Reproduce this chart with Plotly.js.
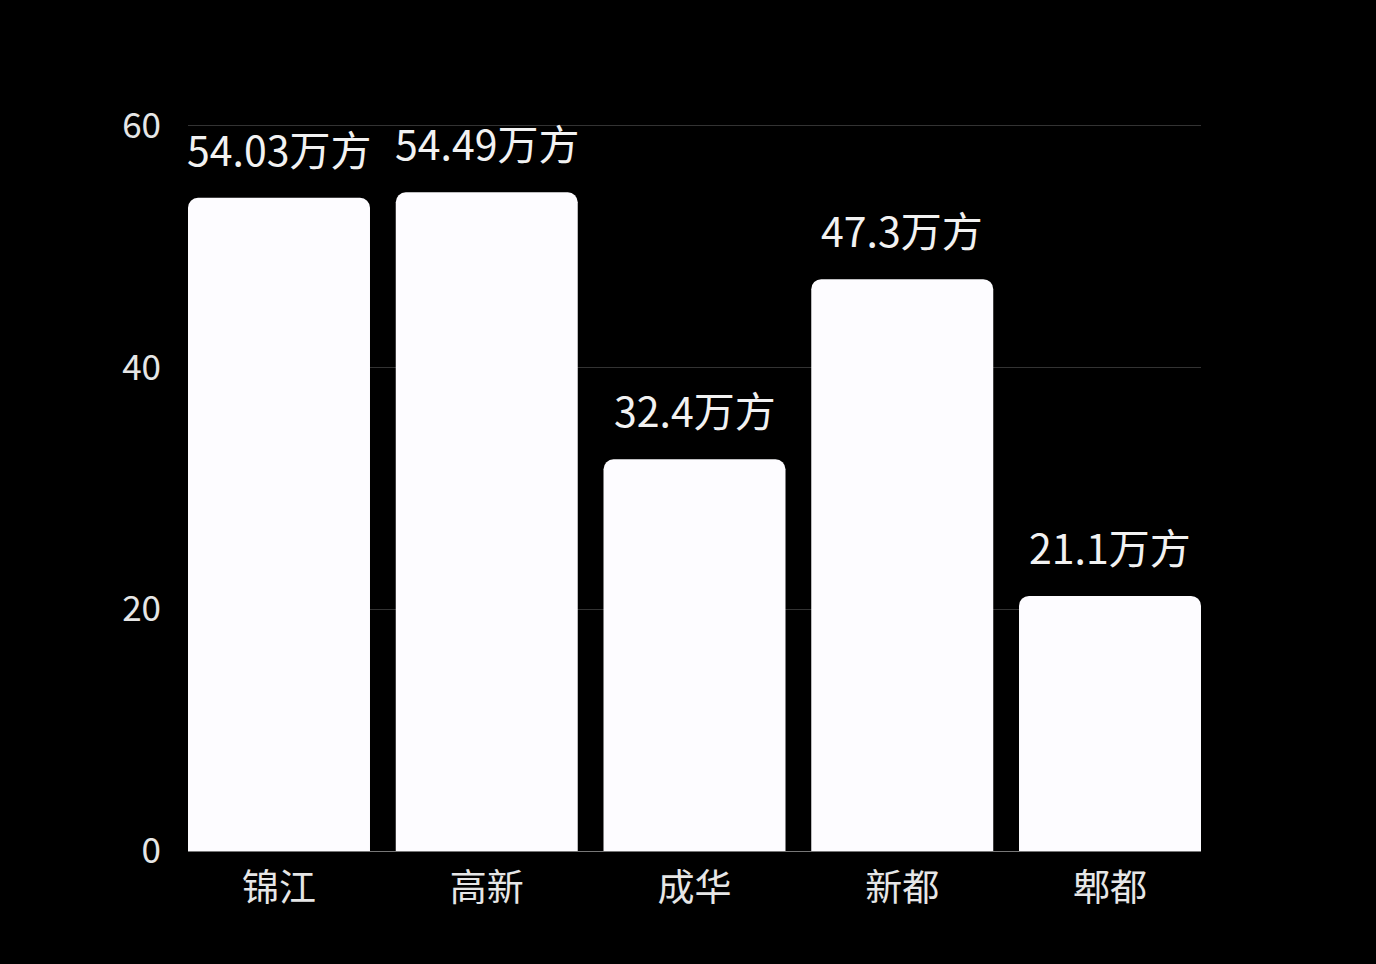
<!DOCTYPE html>
<html>
<head>
<meta charset="utf-8">
<script src="https://cdn.plot.ly/plotly-3.0.1.min.js"></script>
<style>html,body{margin:0;padding:0;background:#000;}#chart{width:1376px;height:964px;}</style>
</head>
<body>
<div id="chart"></div>
<script>
const categories = ["锦江", "高新", "成华", "新都", "郫都"];
const values = [54.03, 54.49, 32.4, 47.3, 21.1];
const labels = ["54.03万方", "54.49万方", "32.4万方", "47.3万方", "21.1万方"];
const yTicks = [0, 20, 40, 60];

const font = '"Noto Sans CJK SC", "Noto Sans", sans-serif';
const gap = 0.124;

const trace = {
  type: "bar",
  x: categories,
  y: values,
  marker: {color: "#fdfcff", line: {width: 0}},
  hoverinfo: "none"
};

const annotations = categories.map((c, i) => ({
  x: c, y: values[i], xref: "x", yref: "y",
  text: labels[i], showarrow: false,
  yanchor: "middle", yshift: 50,
  font: {family: font, size: 41, color: "#f2f2f2"}
}));

const layout = {
  width: 1376, height: 964,
  paper_bgcolor: "#000", plot_bgcolor: "#000",
  margin: {l: 188, r: 175, t: 122.4, b: 113},
  bargap: gap,
  barcornerradius: 10,
  showlegend: false,
  xaxis: {
    type: "category",
    range: [-0.5 + gap / 2, categories.length - 0.5 - gap / 2],
    showgrid: false, zeroline: false, showline: false,
    ticks: "", ticklabelstandoff: 12,
    tickfont: {family: font, size: 37, color: "#e6e6e6"}
  },
  yaxis: {
    range: [0, 60.3], tickvals: yTicks, ticktext: yTicks.map(String),
    showgrid: true, gridcolor: "#333333", gridwidth: 1,
    zeroline: true, zerolinecolor: "#777777", zerolinewidth: 1,
    showline: false, ticks: "", ticklabelstandoff: 26,
    tickfont: {family: font, size: 35, color: "#e6e6e6"}
  },
  annotations: annotations
};

Plotly.newPlot("chart", [trace], layout, {displayModeBar: false, staticPlot: true});
</script>
</body>
</html>
